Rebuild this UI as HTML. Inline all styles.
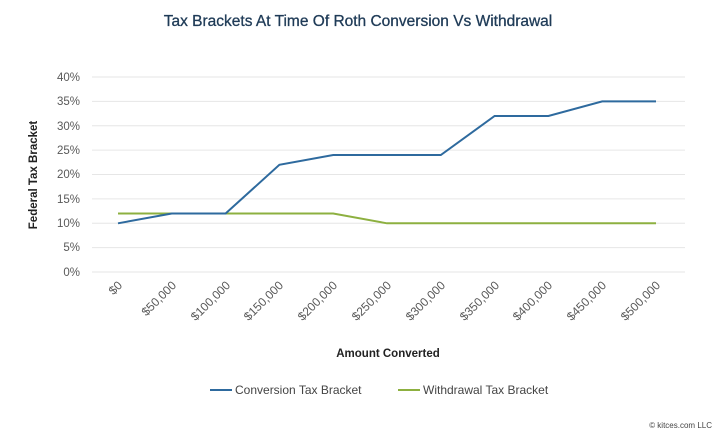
<!DOCTYPE html>
<html><head><style>body{margin:0;background:#fff}</style></head><body>
<svg width="720" height="437" xmlns="http://www.w3.org/2000/svg" font-family="Liberation Sans, sans-serif">
<rect width="720" height="437" fill="#fff"/>
<text x="358" y="26" text-anchor="middle" font-size="15.5" fill="#1f3b57" stroke="#1f3b57" stroke-width="0.3">Tax Brackets At Time Of Roth Conversion Vs Withdrawal</text>
<g stroke="#e6e6e6" stroke-width="1">
<line x1="92" x2="685" y1="77" y2="77"/><line x1="92" x2="685" y1="101.4" y2="101.4"/>
<line x1="92" x2="685" y1="125.8" y2="125.8"/><line x1="92" x2="685" y1="150.1" y2="150.1"/>
<line x1="92" x2="685" y1="174.5" y2="174.5"/><line x1="92" x2="685" y1="198.9" y2="198.9"/>
<line x1="92" x2="685" y1="223.3" y2="223.3"/><line x1="92" x2="685" y1="247.6" y2="247.6"/>
<line x1="92" x2="685" y1="272" y2="272"/>
</g>
<g font-size="11.5" fill="#595959" text-anchor="end">
<text x="80" y="81">40%</text><text x="80" y="105">35%</text><text x="80" y="130">30%</text>
<text x="80" y="154">25%</text><text x="80" y="178">20%</text><text x="80" y="203">15%</text>
<text x="80" y="227">10%</text><text x="80" y="251">5%</text><text x="80" y="276">0%</text>
</g>
<text transform="translate(37,175) rotate(-90)" text-anchor="middle" font-size="11.5" font-weight="bold" fill="#222">Federal Tax Bracket</text>
<g font-size="12" fill="#595959" text-anchor="end">
<text transform="translate(123,286) rotate(-45)">$0</text>
<text transform="translate(177,286) rotate(-45)">$50,000</text>
<text transform="translate(231,286) rotate(-45)">$100,000</text>
<text transform="translate(284,286) rotate(-45)">$150,000</text>
<text transform="translate(338,286) rotate(-45)">$200,000</text>
<text transform="translate(392,286) rotate(-45)">$250,000</text>
<text transform="translate(446,286) rotate(-45)">$300,000</text>
<text transform="translate(500,286) rotate(-45)">$350,000</text>
<text transform="translate(553,286) rotate(-45)">$400,000</text>
<text transform="translate(607,286) rotate(-45)">$450,000</text>
<text transform="translate(661,286) rotate(-45)">$500,000</text>
</g>
<text x="388" y="357" text-anchor="middle" font-size="11.5" font-weight="bold" fill="#222">Amount Converted</text>
<polyline fill="none" stroke="#8db040" stroke-width="2" points="118,213.5 171.8,213.5 225.6,213.5 279.4,213.5 333.2,213.5 387,223.3 440.8,223.3 494.6,223.3 548.4,223.3 602.2,223.3 656,223.3"/>
<polyline fill="none" stroke="#2e6a9e" stroke-width="2" points="118,223.3 171.8,213.5 225.6,213.5 279.4,164.8 333.2,155 387,155 440.8,155 494.6,116 548.4,116 602.2,101.4 656,101.4"/>
<line x1="210" x2="232" y1="390" y2="390" stroke="#2e6a9e" stroke-width="2"/>
<text x="235" y="394" font-size="12" fill="#444">Conversion Tax Bracket</text>
<line x1="398" x2="420" y1="390" y2="390" stroke="#8db040" stroke-width="2"/>
<text x="423" y="394" font-size="12" fill="#444">Withdrawal Tax Bracket</text>
<text x="712" y="428" text-anchor="end" font-size="8" fill="#444">© kitces.com LLC</text>
</svg>
</body></html>
